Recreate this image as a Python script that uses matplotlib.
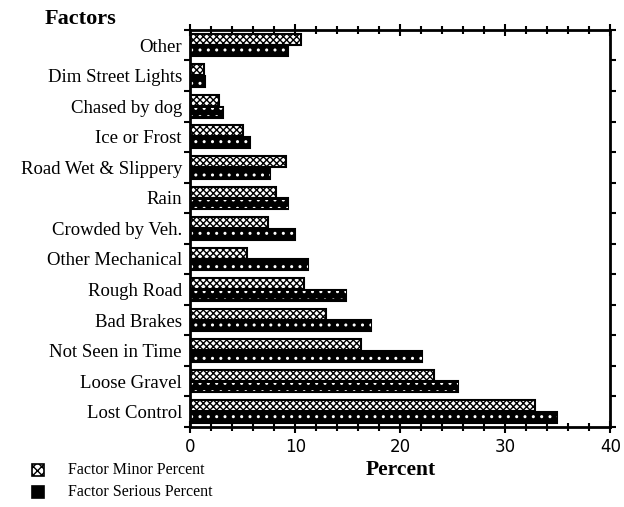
import matplotlib.pyplot as plt
from matplotlib.ticker import MultipleLocator, FixedLocator
import numpy as np

plt.rcParams['font.family'] = ['Liberation Serif', 'DejaVu Serif']
plt.rcParams['hatch.linewidth'] = 1.0

factors = ['Other', 'Dim Street Lights', 'Chased by dog', 'Ice or Frost',
           'Road Wet & Slippery', 'Rain', 'Crowded by Veh.', 'Other Mechanical',
           'Rough Road', 'Bad Brakes', 'Not Seen in Time', 'Loose Gravel',
           'Lost Control']
minor_pct = [10.5, 1.3, 2.7, 5.0, 9.1, 8.2, 7.4, 5.4, 10.8, 12.9, 16.3, 23.2, 32.8]
serious_pct = [9.3, 1.4, 3.1, 5.7, 7.6, 9.3, 10.0, 11.2, 14.8, 17.2, 22.1, 25.5, 34.9]

fig = plt.figure(figsize=(6.24, 5.07), dpi=100)
ax = fig.add_axes([0.305, 0.158, 0.673, 0.783])

n = len(factors)
y = np.arange(n)[::-1]  # first category at top
h = 0.36

ax.barh(y + 0.19, minor_pct, height=h, color='white', edgecolor='black',
        hatch='xxxxx', linewidth=1.5)
ax.barh(y - 0.19, serious_pct, height=h, color='black', edgecolor='black',
        linewidth=1.5)
# white dotted texture on the dark bars
ax.barh(y - 0.19, serious_pct, height=h * 0.7, color='none', edgecolor='white',
        hatch='..', linewidth=0)

ax.set_xlim(0, 40)
ax.set_ylim(-0.5, n - 0.5)

ax.set_yticks(y)
ax.set_yticklabels(factors, fontsize=13.5)
ax.tick_params(axis='y', which='major', length=0, pad=6)
ax.yaxis.set_minor_locator(FixedLocator(np.arange(-0.5, n, 1.0)))
ax.tick_params(axis='y', which='minor', length=4, width=1.5, direction='out',
               left=True, right=True)

ax.xaxis.set_major_locator(MultipleLocator(10))
ax.xaxis.set_minor_locator(MultipleLocator(2))
ax.tick_params(axis='x', which='both', direction='inout', top=True, width=1.5)
ax.tick_params(axis='x', which='major', length=9)
ax.tick_params(axis='x', which='minor', length=6)
for lab in ax.get_xticklabels():
    lab.set_family(['DejaVu Sans'])
    lab.set_fontsize(12)

for s in ax.spines.values():
    s.set_linewidth(2)

ax.set_xlabel('Percent', fontsize=15.5, fontweight='bold', labelpad=3)
fig.text(0.072, 0.953, 'Factors', fontsize=16, fontweight='bold')

# legend in bottom-left corner
lax = fig.add_axes([0.0, 0.0, 0.3, 0.12])
lax.set_xlim(0, 1)
lax.set_ylim(0, 1)
lax.axis('off')
lax.bar([0.203], [0.2], width=0.065, bottom=0.51, color='white', edgecolor='black',
        hatch='xxxx', linewidth=1.2)
lax.bar([0.203], [0.2], width=0.065, bottom=0.15, color='black', edgecolor='black',
        linewidth=1.2)
lax.text(0.364, 0.61, 'Factor Minor Percent', fontsize=11.5, va='center')
lax.text(0.364, 0.25, 'Factor Serious Percent', fontsize=11.5, va='center')

fig.savefig('out.png', dpi=100)
